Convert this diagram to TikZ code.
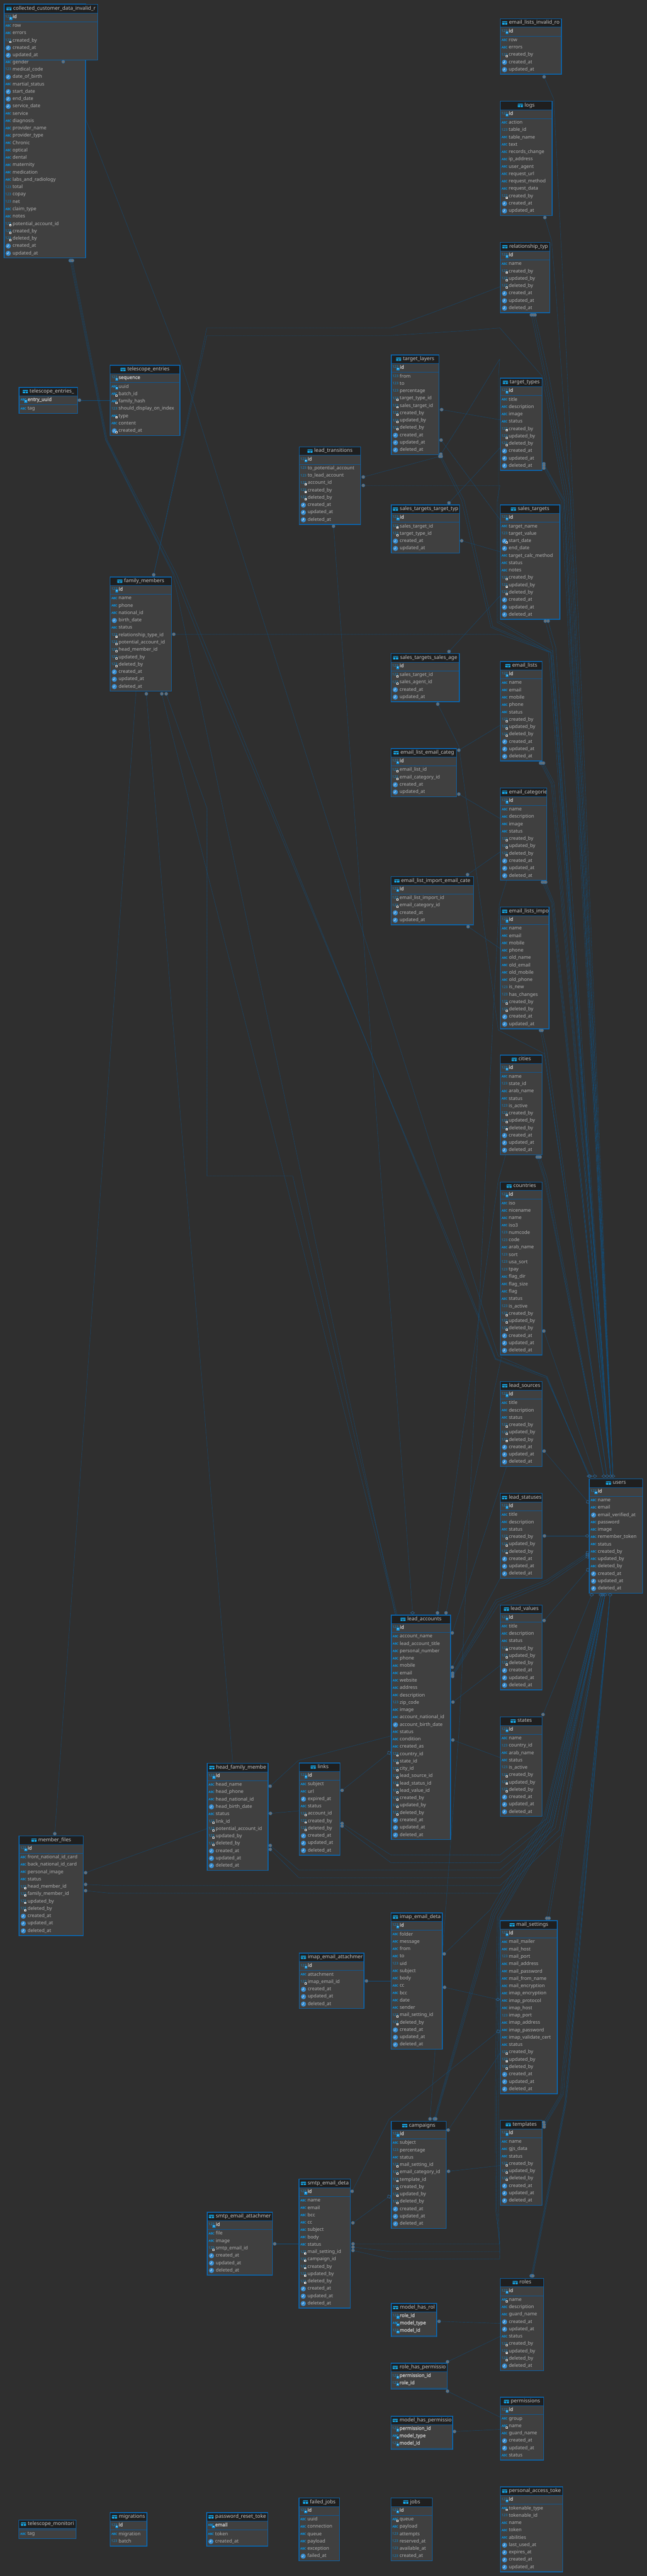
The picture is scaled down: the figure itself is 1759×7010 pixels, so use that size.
\documentclass[tikz,border=0pt]{standalone}
\usepackage{fontspec}
\setmainfont{Noto Sans}[AutoFakeBold=2.5]
\usetikzlibrary{shapes.geometric}

\definecolor{pagebg}{HTML}{2F2F2F}
\definecolor{bodybg}{HTML}{404040}
\definecolor{headbg}{HTML}{1F1F1F}
\definecolor{boxblue}{HTML}{0A66B0}
\definecolor{sepblue}{HTML}{0B5A9C}
\definecolor{lineblue}{HTML}{0E5285}
\definecolor{iconblue}{HTML}{0E8FD8}
\definecolor{tabblue}{HTML}{16A6E6}
\definecolor{clockblue}{HTML}{3A8FD2}
\definecolor{dotgrey}{HTML}{6F6F6F}
\definecolor{dotblue}{HTML}{2A6FA8}
\definecolor{rowgrey}{HTML}{B2B2B2}
\definecolor{titlegrey}{HTML}{C8C8C8}

\pgfdeclarelayer{lines}
\pgfsetlayers{lines,main}

\newcommand{\rowfont}{\fontsize{13}{15}\selectfont}
\newcommand{\titlefont}{\fontsize{14}{16}\selectfont}

\tikzset{
  dbbox/.style={draw=boxblue, fill=bodybg, line width=2pt, inner sep=0pt, outer sep=0pt, anchor=north west},
  dbhead/.style={fill=headbg},
  dbsep/.style={draw=sepblue, line width=.8pt},
  dbtitle/.style={anchor=west, inner sep=0pt, text=titlegrey, font=\titlefont, text height=10pt, text depth=3.5pt},
  rowtext/.style={anchor=west, inner sep=0pt, text=rowgrey, font=\rowfont, text height=9.5pt, text depth=3pt},
  keytext/.style={rowtext, font=\rowfont\bfseries, text=titlegrey},
  numicon/.style={inner sep=0pt, text=iconblue, font=\fontsize{9.5}{10}\selectfont},
  abcicon/.style={inner sep=0pt, text=iconblue, font=\fontsize{8}{9}\selectfont\bfseries},
  clockicon/.style={circle, fill=clockblue, minimum size=14pt, inner sep=0pt},
  clockhand/.style={draw=white, line width=.9pt},
  tabmark/.style={fill=tabblue, rounded corners=1pt},
  tabgrid/.style={draw=headbg, line width=.8pt},
  fkdot/.style={circle, fill=dotgrey, draw=dotblue, line width=1pt, minimum size=8.5pt, inner sep=0pt},
  pkdiamond/.style={diamond, draw=dotblue, line width=.9pt, minimum width=11pt, minimum height=8pt, inner sep=0pt},
  pksquare/.style={rectangle, draw=dotblue, line width=.9pt, minimum size=7pt, inner sep=0pt, rotate=-15},
  relline/.style={draw=lineblue, line width=.6pt, dash pattern=on .8pt off .45pt}
}

% small marks in front of a column name
\newcommand{\fkmark}[2]{\fill[white] (#1+3,#2+1) rectangle ++(5.5,5.5);\fill[headbg] (#1+4.5,#2+2.5) rectangle ++(2.5,2.5);}
\newcommand{\pkmark}[2]{\fill[iconblue] (#1+3,#2+.5) rectangle ++(7.5,7.5);\fill[white] (#1+6.7,#2+3.4) circle (1.5);}
\newcommand{\dbiconn}[3]{\node[numicon] (#1) at (#2,#3-1) {123};}
\newcommand{\dbicona}[3]{\node[abcicon] (#1) at (#2,#3-1) {ABC};}
\newcommand{\dbicont}[3]{\node[clockicon] (#1) at (#2,#3) {};\draw[clockhand] (#2-3.5,#3+1.5) -- (#2,#3) -- (#2,#3-4);}
\newcommand{\dbiconN}[3]{\dbiconn{#1}{#2}{#3}\fkmark{#2}{#3}}
\newcommand{\dbiconA}[3]{\dbicona{#1}{#2}{#3}\fkmark{#2}{#3}}
\newcommand{\dbiconT}[3]{\dbicont{#1}{#2}{#3}\fkmark{#2}{#3}}
\newcommand{\dbiconP}[3]{\dbiconn{#1}{#2}{#3}\pkmark{#2}{#3}}
\newcommand{\dbiconQ}[3]{\dbicona{#1}{#2}{#3}\pkmark{#2}{#3}}

\newcounter{keyrows}
\newcounter{plainrows}
\newsavebox{\titlebox}
\def\blankrow{x}

% name, left, top, width, title, key columns, other columns
\newcommand{\dbtable}[7]{
  \setcounter{keyrows}{0}\setcounter{plainrows}{0}
  \foreach \rk/\rn in {#6} {\ifx\rk\empty\else\stepcounter{keyrows}\fi}
  \foreach \rk/\rn in {#7} {\ifx\rk\empty\else\stepcounter{plainrows}\fi}
  \pgfmathsetmacro\sepy{28+20*\thekeyrows}
  \pgfmathsetmacro\tblh{\sepy+20*\theplainrows+5}
  \node[dbbox, minimum width=#4pt-2pt, minimum height=\tblh pt-2pt] (#1) at (#2+1,#3+1) {};
  \fill[dbhead] (#2+2,#3+2) rectangle (#2+#4-2,#3+24);
  \draw[dbsep] (#2+2,#3+24) -- (#2+#4-2,#3+24);
  \draw[dbsep] (#2+2,#3+\sepy) -- (#2+#4-2,#3+\sepy);
  \pgfinterruptpicture\global\setbox\titlebox=\hbox{\titlefont #5}\endpgfinterruptpicture
  \pgfmathsetmacro\titlex{max(24,(#4-\the\wd\titlebox-18.5)/2+18.5)}
  \begin{scope}
    \clip (#2+2,#3+2) rectangle (#2+#4-2,#3+24);
    \fill[tabmark] (#2+\titlex-18.5,#3+8) rectangle ++(14,9);
    \draw[tabgrid] (#2+\titlex-18.5,#3+11) -- ++(14,0) (#2+\titlex-11.5,#3+11) -- ++(0,6);
    \node[dbtitle] (#1t) at (#2+\titlex,#3+12.5) {#5};
  \end{scope}
  \foreach \rk/\rn [count=\i from 0] in {#6} {
    \ifx\rk\empty\else\ifx\rk\blankrow\else
      \pgfmathsetmacro\ry{#3+35+20*\i}
      \csname dbicon\rk\endcsname{#1ki\i}{#2+12.5}{\ry}
      \node[keytext] (#1k\i) at (#2+24,\ry) {\rn};
    \fi\fi
  }
  \foreach \rk/\rn [count=\i from 0] in {#7} {
    \ifx\rk\empty\else\ifx\rk\blankrow\else
      \pgfmathsetmacro\ry{#3+\sepy+11.5+20*\i}
      \csname dbicon\rk\endcsname{#1ri\i}{#2+12.5}{\ry}
      \node[rowtext] (#1r\i) at (#2+24,\ry) {\rn};
    \fi\fi
  }
}

\begin{document}
\catcode`\_=12
\begin{tikzpicture}[x=1pt,y=-1pt]

\useasboundingbox (0,0) rectangle (1759,7010);
\begin{pgfonlayer}{lines}
\fill[pagebg] (0,0) rectangle (1759,7010);
\end{pgfonlayer}

% tables, top left
\dbtable{custdata}{10}{10}{224}{}{x/-}{x/-,x/-,x/-,x/-,x/-,a/gender,n/medical_code,t/date_of_birth,a/martial_status,t/start_date,t/end_date,t/service_date,a/service,a/diagnosis,a/provider_name,a/provider_type,a/Chronic,a/optical,a/dental,a/maternity,a/medication,a/labs_and_radiology,n/total,n/copay,n/net,a/claim_type,a/notes,N/potential_account_id,N/created_by,N/deleted_by,t/created_at,t/updated_at}
\dbtable{custinvalid}{10}{11}{257}{collected_customer_data_invalid_r}{P/id}{a/row,a/errors,N/created_by,t/created_at,t/updated_at}
\dbtable{teletags}{51}{1053}{161}{telescope_entries_}{Q/entry_uuid}{a/tag}
\dbtable{teleentries}{298.5}{993}{191.5}{telescope_entries}{P/sequence}{Q/uuid,A/batch_id,A/family_hash,n/should_display_on_index,A/type,a/content,T/created_at}
\dbtable{family}{298.5}{1569}{168.5}{family_members}{P/id}{a/name,a/phone,a/national_id,t/birth_date,a/status,N/relationship_type_id,N/potential_account_id,N/head_member_id,N/updated_by,N/deleted_by,t/created_at,t/updated_at,t/deleted_at}

% tables, middle column
\dbtable{layers}{1063}{965}{132}{target_layers}{P/id}{n/from,n/to,n/percentage,N/target_type_id,N/sales_target_id,N/created_by,N/updated_by,N/deleted_by,t/created_at,t/updated_at,t/deleted_at}
\dbtable{transitions}{812.5}{1215}{169.5}{lead_transitions}{P/id}{n/to_potential_account,n/to_lead_account,N/account_id,N/created_by,N/deleted_by,t/created_at,t/updated_at,t/deleted_at}
\dbtable{targettypelink}{1063}{1373}{187.7}{sales_targets_target_typ}{P/id}{N/sales_target_id,N/target_type_id,t/created_at,t/updated_at}
\dbtable{agentlink}{1062.5}{1777.5}{187.5}{sales_targets_sales_age}{P/id}{N/sales_target_id,N/sales_agent_id,t/created_at,t/updated_at}
\dbtable{listcatlink}{1062.5}{2036}{180}{email_list_email_categ}{P/id}{N/email_list_id,N/email_category_id,t/created_at,t/updated_at}
\dbtable{importcatlink}{1062.5}{2384.5}{226}{email_list_import_email_cate}{P/id}{N/email_list_import_id,N/email_category_id,t/created_at,t/updated_at}

% tables, right column
\dbtable{listinvalid}{1359.5}{50}{168}{email_lists_invalid_ro}{P/id}{a/row,a/errors,N/created_by,t/created_at,t/updated_at}
\dbtable{logs}{1359.5}{274.5}{143}{logs}{P/id}{a/action,n/table_id,a/table_name,a/text,a/records_change,a/ip_address,a/user_agent,a/request_url,a/request_method,a/request_data,N/created_by,t/created_at,t/updated_at}
\dbtable{reltypes}{1359.5}{659}{137}{relationship_typ}{P/id}{a/name,N/created_by,N/updated_by,N/deleted_by,t/created_at,t/updated_at,t/deleted_at}
\dbtable{targettypes}{1359.5}{1028}{116}{target_types}{P/id}{a/title,a/description,a/image,a/status,N/created_by,N/updated_by,N/deleted_by,t/created_at,t/updated_at,t/deleted_at}
\dbtable{salestargets}{1359.5}{1373}{164}{sales_targets}{P/id}{a/target_name,n/target_value,T/start_date,t/end_date,a/target_calc_method,a/status,a/notes,N/created_by,N/updated_by,N/deleted_by,t/created_at,t/updated_at,t/deleted_at}
\dbtable{emaillists}{1360}{1799}{115}{email_lists}{P/id}{a/name,a/email,a/mobile,a/phone,a/status,N/created_by,N/updated_by,N/deleted_by,t/created_at,t/updated_at,t/deleted_at}
\dbtable{emailcats}{1360}{2143.5}{127.7}{email_categorie}{P/id}{a/name,a/description,a/image,a/status,N/created_by,N/updated_by,N/deleted_by,t/created_at,t/updated_at,t/deleted_at}
\dbtable{listimports}{1360}{2467.5}{134}{email_lists_impo}{P/id}{a/name,a/email,a/mobile,a/phone,a/old_name,a/old_email,a/old_mobile,a/old_phone,n/is_new,n/has_changes,N/created_by,N/deleted_by,t/created_at,t/updated_at}
\dbtable{cities}{1359.5}{2870.5}{116}{cities}{P/id}{a/name,n/state_id,a/arab_name,a/status,n/is_active,N/created_by,N/updated_by,N/deleted_by,t/created_at,t/updated_at,t/deleted_at}
\dbtable{countries}{1359.5}{3215.5}{116}{countries}{P/id}{a/iso,a/nicename,a/name,a/iso3,n/numcode,n/code,a/arab_name,n/sort,n/usa_sort,n/tpay,a/flag_dir,a/flag_size,a/flag,a/status,n/is_active,N/created_by,N/updated_by,N/deleted_by,t/created_at,t/updated_at,t/deleted_at}
\dbtable{leadsources}{1359.6}{3758.7}{115.7}{lead_sources}{P/id}{a/title,a/description,a/status,N/created_by,N/updated_by,N/deleted_by,t/created_at,t/updated_at,t/deleted_at}
\dbtable{leadstatuses}{1359.6}{4063}{115.7}{lead_statuses}{P/id}{a/title,a/description,a/status,N/created_by,N/updated_by,N/deleted_by,t/created_at,t/updated_at,t/deleted_at}
\dbtable{leadvalues}{1359.6}{4366.5}{115.7}{lead_values}{P/id}{a/title,a/description,a/status,N/created_by,N/updated_by,N/deleted_by,t/created_at,t/updated_at,t/deleted_at}
\dbtable{states}{1359.6}{4671}{115.7}{states}{P/id}{a/name,n/country_id,a/arab_name,a/status,n/is_active,N/created_by,N/updated_by,N/deleted_by,t/created_at,t/updated_at,t/deleted_at}
\dbtable{users}{1601.6}{4023.3}{146.7}{users}{P/id}{a/name,a/email,t/email_verified_at,a/password,a/image,a/remember_token,a/status,a/created_by,a/updated_by,a/deleted_by,t/created_at,t/updated_at,t/deleted_at}

% tables, accounts and mail
\dbtable{leadaccounts}{1063}{4394}{163.5}{lead_accounts}{P/id}{a/account_name,a/lead_account_title,a/personal_number,a/phone,a/mobile,a/email,a/website,a/address,a/description,n/zip_code,a/image,a/account_national_id,t/account_birth_date,a/status,a/condition,a/created_as,N/country_id,N/state_id,N/city_id,N/lead_source_id,N/lead_status_id,N/lead_value_id,N/created_by,N/updated_by,N/deleted_by,t/created_at,t/updated_at,t/deleted_at}
\dbtable{links}{812.8}{4796.3}{112.8}{links}{P/id}{a/subject,a/url,t/expired_at,a/status,N/account_id,N/created_by,N/deleted_by,t/created_at,t/updated_at,t/deleted_at}
\dbtable{headfamily}{562.5}{4797.5}{167.5}{head_family_membe}{P/id}{a/head_name,a/head_phone,a/head_national_id,t/head_birth_date,a/status,N/link_id,N/potential_account_id,N/updated_by,N/deleted_by,t/created_at,t/updated_at,t/deleted_at}
\dbtable{memberfiles}{51}{4995}{176.7}{member_files}{P/id}{a/front_national_id_card,a/back_national_id_card,a/personal_image,a/status,N/head_member_id,N/family_member_id,N/updated_by,N/deleted_by,t/created_at,t/updated_at,t/deleted_at}
\dbtable{imapdetails}{1062.7}{5204.5}{141.2}{imap_email_deta}{P/id}{a/folder,a/message,a/from,a/to,n/uid,a/subject,a/body,a/cc,a/bcc,a/date,a/sender,N/mail_setting_id,N/deleted_by,t/created_at,t/updated_at,t/deleted_at}
\dbtable{imapattach}{812.8}{5314}{178.2}{imap_email_attachmer}{P/id}{a/attachment,N/imap_email_id,t/created_at,t/updated_at,t/deleted_at}
\dbtable{mailsettings}{1359.9}{5225.5}{156.7}{mail_settings}{P/id}{a/mail_mailer,a/mail_host,n/mail_port,a/mail_address,a/mail_password,a/mail_from_name,a/mail_encryption,a/imap_encryption,a/imap_protocol,a/imap_host,n/imap_port,a/imap_address,a/imap_password,a/imap_validate_cert,a/status,N/created_by,N/updated_by,N/deleted_by,t/created_at,t/updated_at,t/deleted_at}
\dbtable{smtpattach}{562.6}{6019}{179}{smtp_email_attachmer}{P/id}{a/file,a/image,N/smtp_email_id,t/created_at,t/updated_at,t/deleted_at}
\dbtable{smtpdetails}{812.3}{5929}{141.7}{smtp_email_deta}{P/id}{a/name,a/email,a/bcc,a/cc,a/subject,a/body,a/status,N/mail_setting_id,N/campaign_id,N/created_by,N/updated_by,N/deleted_by,t/created_at,t/updated_at,t/deleted_at}
\dbtable{campaigns}{1063}{5772}{151.4}{campaigns}{P/id}{a/subject,n/percentage,a/status,N/mail_setting_id,N/email_category_id,N/template_id,N/created_by,N/updated_by,N/deleted_by,t/created_at,t/updated_at,t/deleted_at}
\dbtable{templates}{1359.6}{5769}{115.7}{templates}{P/id}{a/name,a/gjs_data,a/status,N/created_by,N/updated_by,N/deleted_by,t/created_at,t/updated_at,t/deleted_at}

% tables, roles and loose ones at the bottom
\dbtable{roles}{1359.6}{6199}{119.4}{roles}{P/id}{A/name,a/description,a/guard_name,t/created_at,t/updated_at,a/status,N/created_by,N/updated_by,N/deleted_by,t/deleted_at}
\dbtable{modelroles}{1063}{6267}{125.3}{model_has_rol}{P/role_id,Q/model_type,P/model_id}{}
\dbtable{rolepermissions}{1062.4}{6430}{154.6}{role_has_permissio}{P/permission_id,P/role_id}{}
\dbtable{permissions}{1359.6}{6522.6}{120}{permissions}{P/id}{a/group,A/name,a/guard_name,t/created_at,t/updated_at,a/status}
\dbtable{modelpermissions}{1062.4}{6574}{169.4}{model_has_permissio}{P/permission_id,Q/model_type,P/model_id}{}
\dbtable{monitoring}{50.5}{6856.4}{157}{telescope_monitori}{}{a/tag}
\dbtable{migrations}{298.4}{6836.6}{102}{migrations}{P/id}{a/migration,n/batch}
\dbtable{resettokens}{561}{6836.6}{168}{password_reset_toke}{Q/email}{a/token,t/created_at}
\dbtable{failedjobs}{812}{6796.5}{112.4}{failed_jobs}{P/id}{a/uuid,a/connection,a/queue,a/payload,a/exception,t/failed_at}
\dbtable{jobs}{1062.4}{6796.5}{114.4}{jobs}{P/id}{A/queue,a/payload,n/attempts,n/reserved_at,n/available_at,n/created_at}
\dbtable{accesstokens}{1359.6}{6766.5}{171.4}{personal_access_toke}{P/id}{A/tokenable_type,n/tokenable_id,a/name,a/token,a/abilities,t/last_used_at,t/expires_at,t/created_at,t/updated_at}

% foreign key ends
\foreach \n/\x/\y in {dInvRows/172/168, dCustA/191/709, dCustB/194/709, dCustC/197/709,
    dInvList/1479.7/209, dLogs/1481.7/592, dRelA/1445/857, dRelB/1450/857, dRelC/1455/857,
    dTags/216/1089, dLayerA/1201/1114.7, dLayerB/1199.6/1197.6, dLayerC/1199/1236, dLayerD/1200/1242, dLayerE/1196/1242,
    dFamTop/418/1564, dFamRel/472.6/1726, dFamHead/398/1888, dFamC/440/1888, dFamD/452/1888,
    dTransA/988/1298, dTransB/988/1321, dTransC/907/1432, dLinkTop/1221/1368.5, dLinkRight/1255.5/1471.5,
    dTypeA/1479/1262, dTypeB/1479/1267, dTypeC/1479/1274, dSalesA/1483/1690, dSalesB/1490.7/1690,
    dAgentTop/1221/1773, dAgentBot/1190.5/1916, dListA/1470/2076.5, dListB/1474/2076.5, dListC/1478/2076.5,
    dListCatA/1247.7/2041.5, dListCatB/1247.7/2161, dCatA/1475/2400.5, dCatB/1480/2400.5, dCatC/1484/2400.5,
    dImpCatA/1271.5/2380, dImpCatB/1273/2521.7, dImpA/1470/2804, dImpB/1474/2804,
    dCityA/1460.7/3148.6, dCityB/1465/3148.6, dCityC/1469/3148.6, dCountry/1479/3622,
    dSource/1479.7/3948.7, dStatus/1480.6/4179.6, dValue/1479.7/4409.8, dStates/1476.8/4665.6,
    dAccCity/1189.7/4389, dAccCountry/1213/4389, dAccSource/1230/4443.6, dAccStatus/1230/4537,
    dAccA/1231/4553, dAccB/1231/4558, dAccC/1231/4562, dAccValue/1231.8/4631.7, dAccState/1231.5/4735,
    dLinkA/930.3/4872, dLinkB/930.3/4962, dLinkC/930.3/4969,
    dHeadA/734.7/4860.7, dHeadB/735.5/4934.7, dHeadC/735/5022, dHeadD/735/5032.7,
    dMemTop/149/4990, dMemA/232.8/5096, dMemB/232.8/5128, dMemC/232.8/5145,
    dImapA/1208/5317, dImapB/1209/5408, dAttach/996.5/5390.7, dMailA/1487/5220, dMailB/1493/5220,
    dSmtpA/957.6/5963, dSmtpB/959.7/6049, dSmtpC/960/6106, dSmtpD/960/6115, dSmtpE/960/6124, dSmtpAtt/747/6106,
    dCampCat/1169.4/5766, dCampA/1181/5766, dCampB/1183/5766, dCampC/1185/5766, dCampMail/1218.8/5796.4, dCampTpl/1219.8/5908.7,
    dTplA/1478.7/5775.5, dTplB/1479.7/5782, dTplC/1479.7/5788, dRoleA/1444.8/6193, dRoleB/1447/6193, dRoleC/1449/6193,
    dModelRole/1194/6317, dRolePermA/1217/6427, dRolePermB/1217/6507, dModelPerm/1236/6616.7}
  \node[fkdot] (\n) at (\x,\y) {};

% referenced ends
\foreach \n/\x/\y in {uTa/1601.6/4017, uTb/1604.5/4017, uTc/1617.6/4017, uTd/1642/4017, uTe/1651/4017, uTf/1660.7/4017, uTg/1667/4017,
    uLb/1596.8/4179.6, uBa/1609/4340, uBb/1634/4340, uBc/1639/4340, uBd/1645/4340, uBe/1659/4340,
    mAcc/1122/4389, mMail/1353.8/5441}
  \node[pkdiamond] (\n) at (\x,\y) {};
\foreach \n/\x/\y in {uLa/1598.7/4087, uLc/1597.7/4226, uLd/1597.7/4231, uLe/1597.7/4236, uLf/1598.7/4272,
    mAccB/1058/4770, mMailB/1355/5528, mCamp/1058/5977.5}
  \node[pksquare] (\n) at (\x,\y) {};

\begin{pgfonlayer}{lines}
% lines into the top of users
\draw[relline] (dInvRows) -- (492,987) -- (1355,3690) -- (1486,3746) -- (uTa);
\draw[relline] (dCustB) -- (289,1197) -- (473,1561) -- (588,1850) -- (1250,3448) -- (1348,3697) -- (1488,3746) -- (uTa);
\draw[relline] (dCustC) -- (291.5,1197) -- (479.6,1561) -- (597,1850) -- (1250,3461) -- (1347,3699) -- (1486,3750) -- (uTb);
\draw[relline] (dCountry) -- (uTc);
\draw[relline] (dCityA) -- (1480,3209) -- (uTd);
\draw[relline] (dCityB) -- (1483,3209) -- (uTd);
\draw[relline] (dCityC) -- (1487,3203) -- (uTd);
\draw[relline] (dImpA) -- (1480,2858) -- (uTe);
\draw[relline] (dImpB) -- (1487,2858) -- (uTe);
\draw[relline] (dAgentBot) -- (1247.7,2030) -- (1347.7,2750) -- (1355,2803) -- (1480,2867) -- (uTe);
\draw[relline] (dListA) -- (1499,2133) -- (uTf);
\draw[relline] (dListB) -- (1503,2133) -- (uTf);
\draw[relline] (dListC) -- (1507,2130) -- (uTf);
\draw[relline] (dCatA) -- (1500,2458) -- (uTf);
\draw[relline] (dCatB) -- (1503,2458) -- (uTf);
\draw[relline] (dCatC) -- (1506,2455) -- (uTf);
\draw[relline] (dSalesA) -- (1503,1763) -- (uTf);
\draw[relline] (dSalesB) -- (1511.7,1763) -- (uTf);
\draw[relline] (dFamRel) -- (1359.5,1726) -- (1500,1776) -- (uTf);
\draw[relline] (dLayerC) -- (1250,1156) -- (1359,977) -- (1355.7,1020) -- (1355.7,1690) -- (1503,1772) -- (uTf);
\draw[relline] (dTransB) -- (1359.5,1321) -- (1351.7,1364) -- (1351.7,1693) -- (1498,1776) -- (uTf);
\draw[relline] (dLayerD) -- (1262,1361) -- (1340,1705) -- (1497,1773) -- (uTf);
\draw[relline] (dTransA) -- (dLayerE) -- (1255,1361) -- (1335,1707) -- (1492,1775) -- (uTf);
\draw[relline] (dTypeA) -- (1535,1361) -- (uTg);
\draw[relline] (dTypeB) -- (1531.7,1361) -- (uTg);
\draw[relline] (dTypeC) -- (1526.7,1364) -- (uTg);
\draw[relline] (dRelA) -- (1480,1023) -- (1540,1352) -- (uTg);
\draw[relline] (dRelB) -- (1485,1023) -- (1545,1348) -- (uTg);
\draw[relline] (dRelC) -- (1491.7,1017) -- (1552,1342) -- (uTg);
\draw[relline] (dFamTop) -- (562.5,913) -- (1063,913) -- (1250,901) -- (1359.5,892.5) -- (1474,1023) -- (1535,1355) -- (uTg);
\draw[relline] (dLogs) -- (1500,655) -- (1512,800) -- (1550,1342) -- (1568,1800) -- (uTg);
\draw[relline] (dInvList) -- (1506,270) -- (1532.7,800) -- (1578,1800) -- (uTg);

% lines into the side of users
\draw[relline] (dSource) -- (uLa);
\draw[relline] (dStatus) -- (uLb);
\draw[relline] (dValue) -- (uLf);
\draw[relline] (dAccA) -- (1348.5,4354) -- (1486,4300) -- (uLc);
\draw[relline] (dAccB) -- (1351,4360) -- (1486,4305) -- (uLd);
\draw[relline] (dAccC) -- (1355.7,4366.5) -- (1490,4310) -- (uLe);

% lines into the bottom of users
\draw[relline] (dStates) -- (uBa);
\draw[relline] (dLinkB) -- (1062.7,5047.6) -- (1360,5047.6) -- (1487,4949) -- (uBb);
\draw[relline] (dLinkC) -- (1062.7,5068.6) -- (1360,5068.6) -- (1495.6,4955) -- (uBb);
\draw[relline] (dHeadC) -- (812.8,5089) -- (1360,5089) -- (1503.7,4968) -- (uBc);
\draw[relline] (dHeadD) -- (812.8,5110) -- (1360,5110) -- (1510,4974) -- (uBc);
\draw[relline] (dMemB) -- (300,5131) -- (1360,5131) -- (1520.6,4980) -- (uBd);
\draw[relline] (dMemC) -- (300,5152) -- (1360,5152) -- (1527,4993) -- (uBd);
\draw[relline] (dImapA) -- (1333,5197) -- (1477,4949) -- (uBb);
\draw[relline] (dCampA) -- (1338,5204) -- (1480,4952) -- (uBb);
\draw[relline] (dCampB) -- (1342,5208) -- (1484,4956) -- (uBc);
\draw[relline] (dCampC) -- (1346,5212) -- (1488,4960) -- (uBc);
\draw[relline] (dSmtpC) -- (1359.6,6106) -- (1347.5,6012) -- (1347,5700) -- (1352,5217) -- (1492,4965) -- (uBd);
\draw[relline] (dSmtpD) -- (1062.8,6127) -- (1359.6,6127) -- (1351,6012) -- (1351,5700) -- (1356,5220) -- (1496,4970) -- (uBd);
\draw[relline] (dSmtpE) -- (1062.8,6147.5) -- (1359.6,6147.5) -- (1355.8,6012) -- (1355.8,5700) -- (1358,5222) -- (1500,4975) -- (uBd);
\draw[relline] (dMailA) -- (uBd);
\draw[relline] (dMailB) -- (uBd);
\draw[relline] (dTplA) -- (1525,5698) -- (1528,5650) -- (uBe);
\draw[relline] (dTplB) -- (1529,5698) -- (1532,5650) -- (uBe);
\draw[relline] (dTplC) -- (1533,5698) -- (1536,5650) -- (uBe);
\draw[relline] (dRoleA) -- (1536,5721) -- (1543,5650) -- (uBe);
\draw[relline] (dRoleB) -- (1538,5721) -- (1545,5650) -- (uBe);
\draw[relline] (dRoleC) -- (1540,5721) -- (1547,5650) -- (uBe);

% lines between the other tables
\draw[relline] (dFamTop) -- (562.5,892) -- (1063,892) -- (1178,850) -- (reltypes.west |- 0,780);
\draw[relline] (dTags) -- (teleentries.west |- 0,1089);
\draw[relline] (dLayerA) -- (targettypes.west |- 0,1142.5);
\draw[relline] (dLayerB) -- (salestargets.west |- 0,1415);
\draw[relline] (dLinkTop) -- (targettypes.west |- 0,1218);
\draw[relline] (dLinkRight) -- (salestargets.west |- 0,1501.5);
\draw[relline] (dAgentTop) -- (salestargets.west |- 0,1621);
\draw[relline] (dTransC) -- (mAcc);
\draw[relline] (dCustA) -- (287,1197) -- (470,1561) -- (leadaccounts.north -| 1075,0);
\draw[relline] (dFamC) -- (leadaccounts.north -| 1077,0);
\draw[relline] (dFamD) -- (563,2200) -- (563,3200) -- (796,3200) -- (leadaccounts.north -| 1080,0);
\draw[relline] (dFamHead) -- (headfamily.north -| 633,0);
\draw[relline] (dMemTop) -- (family.south -| 370,0);
\draw[relline] (dMemA) -- (headfamily.west |- 0,4976);
\draw[relline] (dListCatA) -- (emaillists.west |- 0,1973);
\draw[relline] (dListCatB) -- (emailcats.west |- 0,2228);
\draw[relline] (dImpCatA) -- (emailcats.west |- 0,2317.6);
\draw[relline] (dImpCatB) -- (listimports.west |- 0,2582);
\draw[relline] (dCampCat) -- (1249,4700) -- (1296,3700) -- (1341.7,2750) -- (1357.6,2461) -- (emailcats.south -| 1378,0);
\draw[relline] (dAccCity) -- (1279,3750) -- (1355,3212) -- (cities.south -| 1375,0);
\draw[relline] (dAccCountry) -- (countries.south -| 1365,0);
\draw[relline] (dAccSource) -- (leadsources.south -| 1377.5,0);
\draw[relline] (dAccStatus) -- (leadstatuses.west |- 0,4294);
\draw[relline] (dAccValue) -- (leadvalues.west |- 0,4532);
\draw[relline] (dAccState) -- (states.west |- 0,4783);
\draw[relline] (dLinkA) -- (mAccB);
\draw[relline] (dHeadA) -- (811.4,4790.6) -- (leadaccounts.west |- 0,4723.6);
\draw[relline] (dHeadB) -- (links.west |- 0,4927.7);
\draw[relline] (dAttach) -- (imapdetails.west |- 0,5390.7);
\draw[relline] (dImapB) -- (mMail);
\draw[relline] (dSmtpAtt) -- (smtpdetails.west |- 0,6106);
\draw[relline] (dSmtpA) -- (1058,5767) -- (mMailB);
\draw[relline] (dSmtpB) -- (mCamp);
\draw[relline] (dCampMail) -- (mailsettings.west |- 0,5586);
\draw[relline] (dCampTpl) -- (templates.west |- 0,5893);
\draw[relline] (dModelRole) -- (roles.west |- 0,6322.5);
\draw[relline] (dRolePermA) -- (roles.west |- 0,6357.6);
\draw[relline] (dRolePermB) -- (permissions.west |- 0,6578);
\draw[relline] (dModelPerm) -- (permissions.west |- 0,6611);
\end{pgfonlayer}

\end{tikzpicture}
\end{document}
